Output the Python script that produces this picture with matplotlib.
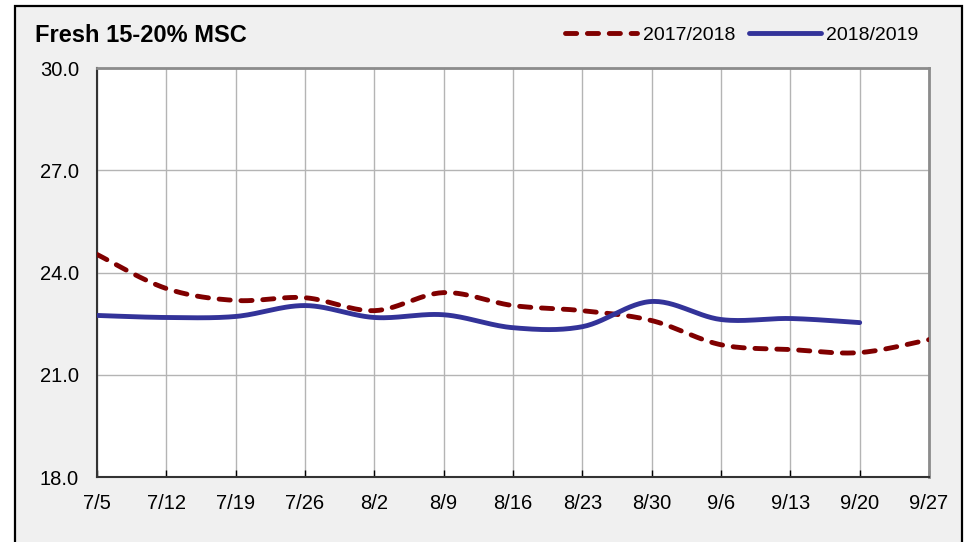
import numpy as np
import matplotlib
matplotlib.use("Agg")
import matplotlib.pyplot as plt
from matplotlib.patches import Rectangle

plt.rcParams["font.family"] = ["Liberation Sans", "DejaVu Sans"]

# data
weeks = ["7/5", "7/12", "7/19", "7/26", "8/2", "8/9", "8/16",
         "8/23", "8/30", "9/6", "9/13", "9/20", "9/27"]
s2017 = [24.53, 23.53, 23.18, 23.26, 22.88, 23.41, 23.03,
         22.88, 22.59, 21.88, 21.74, 21.65, 22.03]
s2018 = [22.74, 22.68, 22.71, 23.03, 22.68, 22.76, 22.38,
         22.41, 23.15, 22.62, 22.65, 22.53]
yticks = [18.0, 21.0, 24.0, 27.0, 30.0]


def smooth(y, n=30):
    # excel-like smoothed line (catmull-rom bezier through the points)
    y = np.asarray(y, float)
    x = np.arange(len(y), dtype=float)
    p = np.column_stack([x, y])
    p = np.vstack([p[0], p, p[-1]])
    out = []
    t = np.linspace(0, 1, n)[:, None]
    for i in range(1, len(p) - 2):
        p0, p1, p2, p3 = p[i - 1], p[i], p[i + 1], p[i + 2]
        c1 = p1 + (p2 - p0) / 6
        c2 = p2 - (p3 - p1) / 6
        seg = ((1 - t) ** 3) * p1 + 3 * ((1 - t) ** 2) * t * c1 \
            + 3 * (1 - t) * t ** 2 * c2 + t ** 3 * p2
        out.append(seg)
    out = np.vstack(out)
    return out[:, 0], out[:, 1]


fig = plt.figure(figsize=(9.66, 5.42), dpi=100)
fig.patch.set_facecolor("white")
fig.patches.append(Rectangle((15 / 966, -0.05), (962 - 15) / 966, 1.05 - 6 / 542,
                             transform=fig.transFigure, facecolor="#f0f0f0",
                             edgecolor="black", linewidth=1.6, zorder=-10))

ax = fig.add_axes([97 / 966, 1 - 477 / 542, (929 - 97) / 966, (477 - 68) / 542])
ax.set_facecolor("white")

x1, y1 = smooth(s2017)
x2, y2 = smooth(s2018)
ax.plot(x1, y1, color="#800000", lw=3.5, linestyle=(0, (2.3, 2.2)),
        dash_capstyle="round", label="2017/2018", zorder=3)
ax.plot(x2, y2, color="#333399", lw=3.5, solid_capstyle="round",
        label="2018/2019", zorder=4)

ax.set_xlim(0, len(weeks) - 1)
ax.set_ylim(18, 30)
ax.set_xticks(range(len(weeks)))
ax.set_xticklabels(weeks)
ax.set_yticks(yticks)
ax.set_yticklabels([f"{v:.1f}" for v in yticks])
ax.grid(True, color="#b4b4b4", linewidth=1.0)
ax.set_axisbelow(True)
ax.tick_params(axis="both", labelsize=14.5, colors="black", length=5,
               width=1.0, direction="in")
ax.tick_params(axis="x", pad=12)
ax.tick_params(axis="y", pad=13, length=0)
for side in ["left", "bottom"]:
    ax.spines[side].set_color("#333333")
    ax.spines[side].set_linewidth(1.5)
for side in ["top", "right"]:
    ax.spines[side].set_color("#8c8c8c")
    ax.spines[side].set_linewidth(2.0)

fig.text(35 / 966, 1 - 35 / 542, "Fresh 15-20% MSC", fontsize=17,
         fontweight="bold", va="center", ha="left")
fig.legend(loc="center right", bbox_to_anchor=(0.951, 1 - 35 / 542), ncol=2,
           frameon=False, fontsize=14, handlelength=3.7, handletextpad=0.3,
           columnspacing=0.7, borderpad=0, borderaxespad=0)

fig.savefig("out.png", dpi=100)
